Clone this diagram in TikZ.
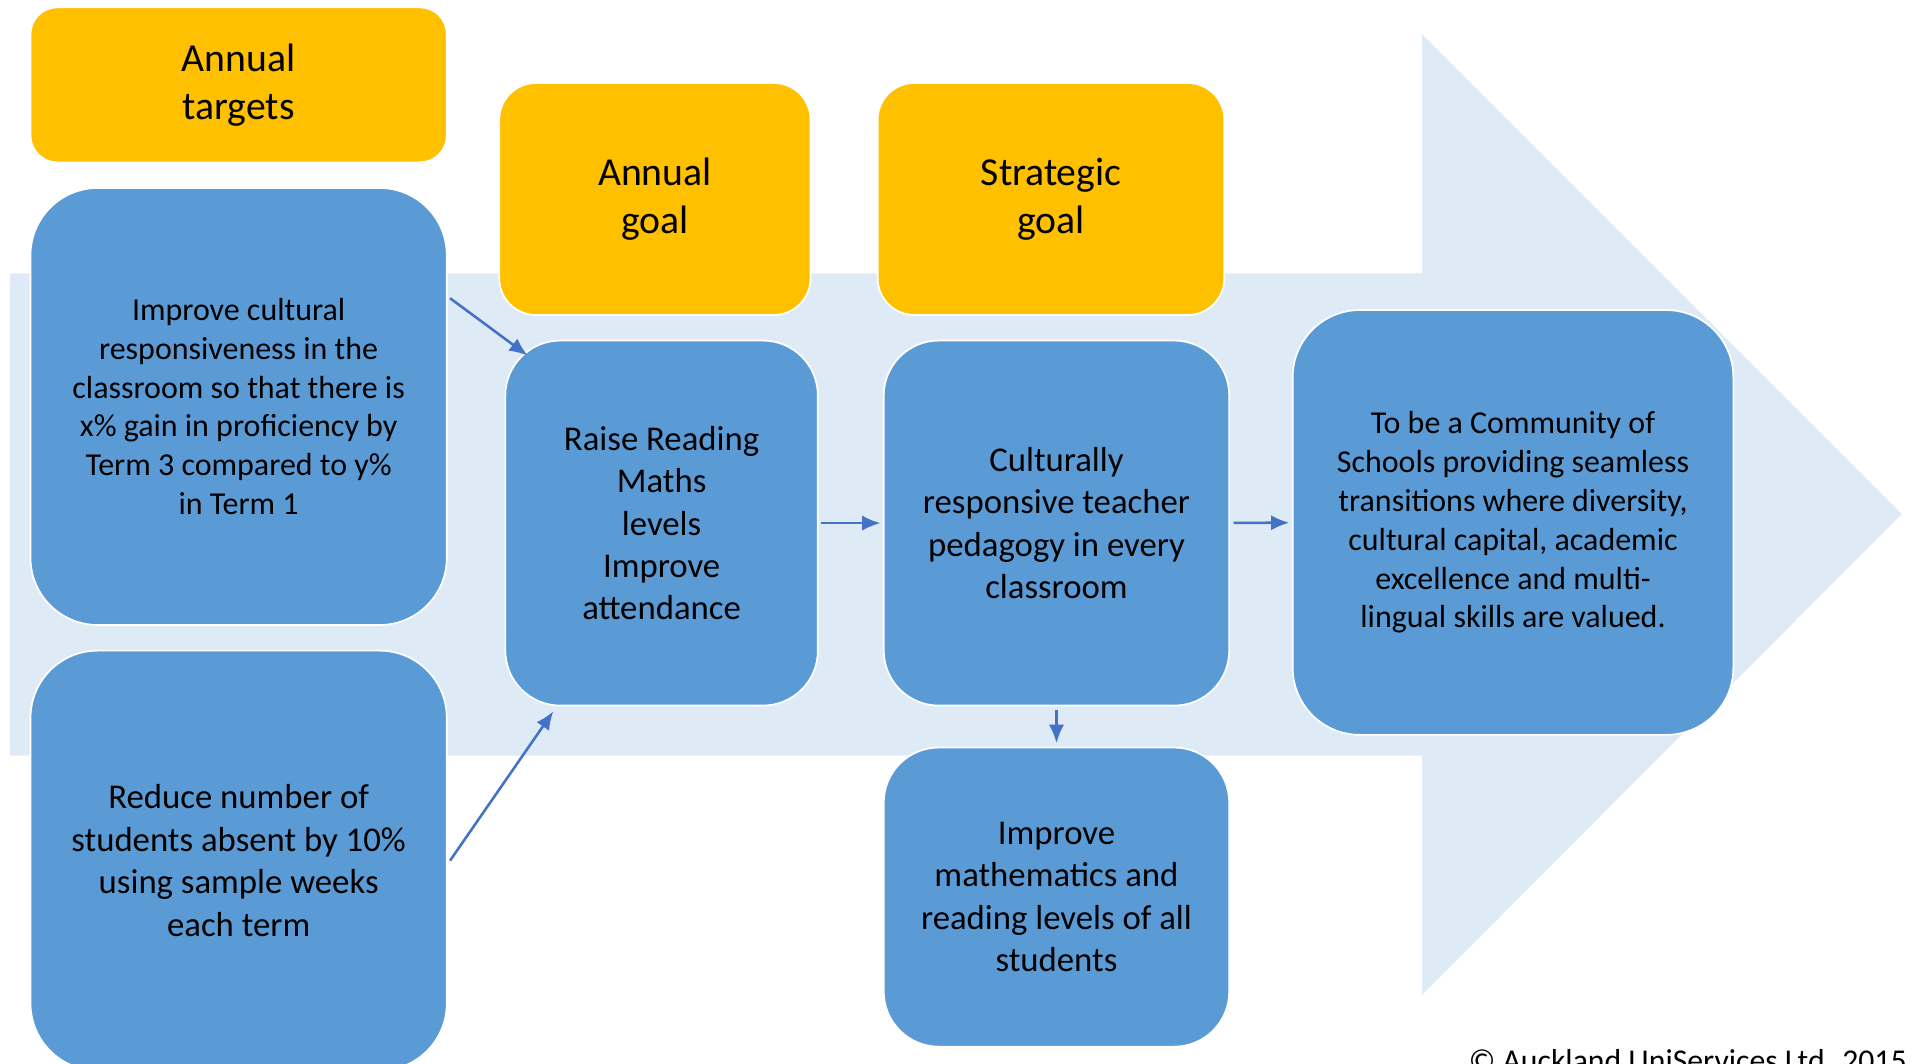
\documentclass[tikz,border=0pt]{standalone}
\usepackage{fontspec}
\setmainfont{Carlito}
\usetikzlibrary{positioning,calc,arrows.meta}
\definecolor{goalorange}{HTML}{FFC000}
\definecolor{stepblue}{HTML}{5B9BD5}
\definecolor{arrowpale}{HTML}{DEEBF7}
\definecolor{linkblue}{HTML}{4472C4}
\tikzset{>={Latex[length=3mm,width=2.5mm]}}

\begin{document}
\begin{tikzpicture}[x=0.2mm, y=-0.2mm,
    headbox/.style={draw=white, line width=0.8pt, fill=goalorange, rounded corners=6mm, align=center, inner sep=0pt, font=\fontsize{18.5}{22.4}\selectfont},
    stepbox/.style={draw=white, line width=0.8pt, fill=stepblue, rounded corners=9mm, align=center, inner sep=0pt, font=\fontsize{16.2}{19.8}\selectfont},
    smalltext/.style={font=\fontsize{14.9}{18.1}\selectfont},
    link/.style={->, draw=linkblue, line width=1.2pt}]
    \useasboundingbox (0,0) rectangle (1568,871);
    \clip (0,0) rectangle (1568,871);
    \fill[white] (0,0) rectangle (1568,871);

    % Big arrow behind everything
    \fill[arrowpale] (8,224) -- (1165,224) -- (1165,28) -- (1558,421) -- (1165,815) -- (1165,619) -- (8,619) -- cycle;

    % Nodes
    \node (targets) [headbox, rounded corners=4.4mm, minimum width=68.2mm, minimum height=25.4mm] at (195.5,69.5) {Annual\\targets};
    \node (cultural) [stepbox, smalltext, rounded corners=11mm, minimum width=68.2mm, minimum height=71.6mm] at (195.5,333) {Improve cultural\\responsiveness in the\\classroom so that there is\\x\% gain in proficiency by\\Term 3 compared to y\%\\in Term 1};
    \node (reduce) [stepbox, rounded corners=11mm, minimum width=68.2mm, minimum height=68.8mm] at (195.5,705) {Reduce number of\\students absent by 10\%\\using sample weeks\\each term};
    \node (goal) [headbox, minimum width=51mm, minimum height=38mm] at (536.5,163) {Annual\\goal};
    \node (raise) [stepbox, minimum width=51.2mm, minimum height=59.8mm] at (542,428.5) {Raise Reading\\Maths\\levels\\Improve\\attendance};
    \node (strategic) [headbox, minimum width=56.8mm, minimum height=38mm] at (861,163) {Strategic\\goal};
    \node (pedagogy) [stepbox, minimum width=56.6mm, minimum height=59.8mm] at (865.5,428.5) {Culturally\\responsive teacher\\pedagogy in every\\classroom};
    \node (maths) [stepbox, minimum width=56.6mm, minimum height=49mm, below=6.6mm of pedagogy] {Improve\\mathematics and\\reading  levels of all\\students};
    \node (vision) [stepbox, smalltext, rounded corners=11mm, minimum width=72.2mm, minimum height=69.6mm] at (1239.5,428) {To be a Community of\\Schools providing seamless\\transitions where diversity,\\cultural capital, academic\\excellence and multi-\\lingual skills are valued.};
    \node (credit) [anchor=north west, inner sep=0pt, font=\fontsize{14.8}{18}\selectfont] at (1203,859) {© Auckland UniServices Ltd. 2015};

    % Arrows
    \draw[link] ($(cultural.north east)+(2,91)$) -- ($(raise.north west)+(19,13)$);
    \draw[link] ($(reduce.east)+(2,0)$) -- ($(raise.south west)+(40,4)$);
    \draw[link, shorten <=0.4mm, shorten >=0.4mm] (raise) -- (pedagogy);
    \draw[link, shorten <=0.6mm, shorten >=0.4mm] (pedagogy) -- (vision);
    \draw[link, shorten <=0.6mm, shorten >=0.6mm] (pedagogy) -- (maths);
\end{tikzpicture}
\end{document}
